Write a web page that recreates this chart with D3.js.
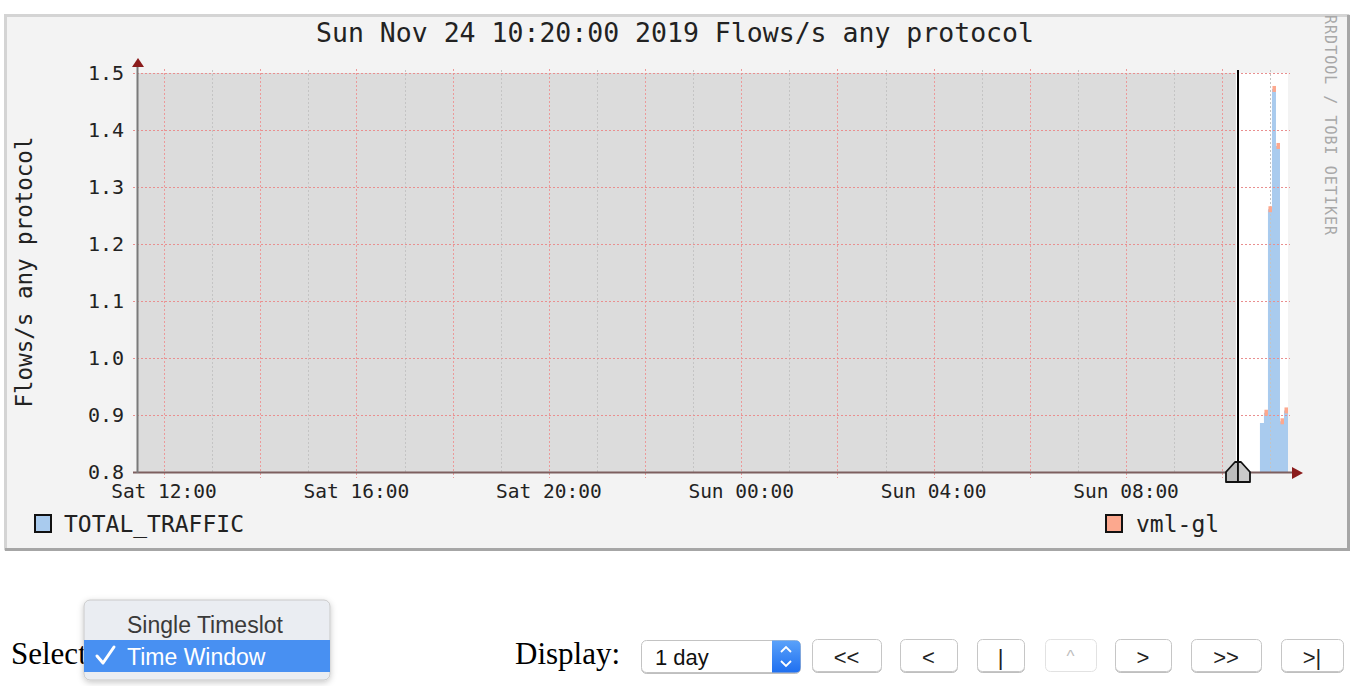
<!DOCTYPE html>
<html>
<head>
<meta charset="utf-8">
<script src="https://cdn.jsdelivr.net/npm/d3@7"></script>
<style>
  html, body { margin: 0; padding: 0; background: #fff; }
  svg { display: block; }
  .mono { font-family: "DejaVu Sans Mono", monospace; }
  .serif { font-family: "Liberation Serif", "Times New Roman", serif; }
  .sans { font-family: "Liberation Sans", Arial, sans-serif; }
</style>
</head>
<body>
<svg id="chart" width="1354" height="686"></svg>
<script>
// --- data ---
const title = 'Sun Nov 24 10:20:00 2019 Flows/s any protocol';
const yLabel = 'Flows/s any protocol';
const yTicks = [0.8, 0.9, 1.0, 1.1, 1.2, 1.3, 1.4, 1.5];
const xLabelTimes = ['2019-11-23T12:00', '2019-11-23T16:00', '2019-11-23T20:00',
                     '2019-11-24T00:00', '2019-11-24T04:00', '2019-11-24T08:00'];
const xLabelTexts = ['Sat 12:00', 'Sat 16:00', 'Sat 20:00', 'Sun 00:00', 'Sun 04:00', 'Sun 08:00'];
const stepTimes = ['2019-11-24T10:47', '2019-11-24T10:52', '2019-11-24T10:57', '2019-11-24T11:02',
                   '2019-11-24T11:07', '2019-11-24T11:12', '2019-11-24T11:17'];
const stepEnd = '2019-11-24T11:22';
const totalTraffic = [0.886, 0.904, 1.261, 1.472, 1.372, 0.889, 0.908];
const vmlGl = [null, 0.904, 1.261, 1.472, 1.372, 0.889, 0.908];
const selectedTime = '2019-11-24T10:20';
const shadeEnd = '2019-11-24T10:17';
const timeStart = '2019-11-23T11:26:20';
const timeEnd = '2019-11-24T11:22';
const legend = [{name: 'TOTAL_TRAFFIC', color: '#a9cbee'}, {name: 'vml-gl', color: '#fca88e'}];
const menuItems = ['Single Timeslot', 'Time Window'];
const navButtons = ['<<', '<', '|', '^', '>', '>>', '>|'];

const parse = s => new Date(s);
const svg = d3.select('#chart');

const x = d3.scaleTime().domain([parse(timeStart), parse(timeEnd)]).range([137, 1288]);
const y = d3.scaleLinear().domain([0.8, 1.5]).range([472, 73]);

// shadow filter for the menu and buttons
const defs = svg.append('defs');
const f = defs.append('filter').attr('id', 'shadow').attr('x', '-20%').attr('y', '-30%').attr('width', '140%').attr('height', '160%');
f.append('feDropShadow').attr('dx', 0).attr('dy', 2).attr('stdDeviation', 3).attr('flood-color', '#000').attr('flood-opacity', 0.22);
const fb = defs.append('filter').attr('id', 'btnshadow').attr('x', '-10%').attr('y', '-20%').attr('width', '120%').attr('height', '150%');
fb.append('feDropShadow').attr('dx', 0).attr('dy', 1).attr('stdDeviation', 0.6).attr('flood-color', '#000').attr('flood-opacity', 0.25);
const blueGrad = defs.append('linearGradient').attr('id', 'selblue').attr('x1', 0).attr('y1', 0).attr('x2', 0).attr('y2', 1);
blueGrad.append('stop').attr('offset', '0%').attr('stop-color', '#5aa2fa');
blueGrad.append('stop').attr('offset', '100%').attr('stop-color', '#1f6ff0');

// --- rrd frame ---
const frame = svg.append('g');
frame.append('rect').attr('x', 4).attr('y', 14).attr('width', 1346).attr('height', 537).attr('fill', '#f3f3f3');
frame.append('path').attr('d', 'M5.5,550 V15.5 H1349').attr('fill', 'none').attr('stroke', '#d4d4d4').attr('stroke-width', 3);
frame.append('path').attr('d', 'M5,549.5 H1348.5 V15').attr('fill', 'none').attr('stroke', '#a6a6a6').attr('stroke-width', 3);

// --- canvas ---
const plot = svg.append('g');
plot.append('rect').attr('x', x.range()[0]).attr('y', y(1.5)).attr('width', x.range()[1] - x.range()[0])
  .attr('height', y(0.8) - y(1.5)).attr('fill', '#ffffff');
plot.append('rect').attr('x', x.range()[0]).attr('y', y(1.5)).attr('width', x(parse(shadeEnd)) - x.range()[0])
  .attr('height', y(0.8) - y(1.5)).attr('fill', '#dcdcdc');

// data steps
const steps = stepTimes.map((t, i) => ({t: parse(t), v: totalTraffic[i]}));
steps.push({t: parse(stepEnd), v: totalTraffic[totalTraffic.length - 1]});
const area = d3.area().x(d => x(d.t)).y0(y(0.8)).y1(d => y(d.v)).curve(d3.curveStepAfter);
plot.append('path').datum(steps).attr('d', area).attr('fill', legend[0].color);

// grid: minor hours (gray), major every 2 hours (red)
const hours = x.ticks(d3.timeHour.every(1));
const grid = svg.append('g').attr('fill', 'none').attr('stroke-width', 1);
grid.selectAll('line.minor').data(hours.filter(h => h.getHours() % 2 === 1)).join('line')
  .attr('x1', d => Math.round(x(d)) + 0.5).attr('x2', d => Math.round(x(d)) + 0.5)
  .attr('y1', y(1.5) - 3).attr('y2', y(0.8))
  .attr('stroke', '#c4c4c4').attr('stroke-dasharray', '2,2');
grid.selectAll('line.major').data(hours.filter(h => h.getHours() % 2 === 0)).join('line')
  .attr('x1', d => Math.round(x(d)) + 0.5).attr('x2', d => Math.round(x(d)) + 0.5)
  .attr('y1', y(1.5) - 4).attr('y2', y(0.8) + 6)
  .attr('stroke', '#eb9a9a').attr('stroke-dasharray', '2,2');
grid.selectAll('line.h').data(yTicks.slice(1)).join('line')
  .attr('x1', x.range()[0] - 4).attr('x2', x.range()[1] + 2)
  .attr('y1', d => Math.round(y(d)) + 0.5).attr('y2', d => Math.round(y(d)) + 0.5)
  .attr('stroke', '#e98f8f').attr('stroke-dasharray', '2,2');

// vml-gl marks on top of each step
const marks = stepTimes.map((t, i) => ({t0: parse(t), t1: i + 1 < stepTimes.length ? parse(stepTimes[i + 1]) : parse(stepEnd), v: vmlGl[i]}))
  .filter(d => d.v !== null);
svg.append('g').selectAll('rect').data(marks).join('rect')
  .attr('x', d => x(d.t0) + 0.5).attr('width', d => x(d.t1) - x(d.t0) - 0.5)
  .attr('y', d => y(d.v) - 3).attr('height', 6)
  .attr('fill', legend[1].color);

// axes
const axes = svg.append('g');
axes.append('line').attr('x1', 133).attr('x2', 1294).attr('y1', y(0.8) + 0.5).attr('y2', y(0.8) + 0.5)
  .attr('stroke', '#7d5f5f').attr('stroke-width', 2);
axes.append('line').attr('x1', 137.5).attr('x2', 137.5).attr('y1', y(0.8) + 1).attr('y2', 64)
  .attr('stroke', '#7a7a7a').attr('stroke-width', 2);
axes.append('path').attr('d', 'M132,67 L138,58 L144,67 Z').attr('fill', '#8b1c1c');
axes.append('path').attr('d', 'M1292,467 L1303,473 L1292,479 Z').attr('fill', '#8b1c1c');

// y tick labels
axes.selectAll('text.yt').data(yTicks).join('text')
  .attr('class', 'mono').attr('x', 124).attr('y', d => y(d)).attr('dy', '0.36em')
  .attr('text-anchor', 'end').attr('font-size', 20).attr('fill', '#222')
  .text(d => d.toFixed(1));

// x tick labels
axes.selectAll('text.xt').data(xLabelTimes).join('text')
  .attr('class', 'mono').attr('x', d => x(parse(d))).attr('y', 498)
  .attr('text-anchor', 'middle').attr('font-size', 19.5).attr('fill', '#222')
  .text((d, i) => xLabelTexts[i]);

// titles
svg.append('text').attr('class', 'mono').attr('x', 675).attr('y', 42).attr('text-anchor', 'middle')
  .attr('font-size', 26.5).attr('fill', '#222').text(title);
svg.append('text').attr('class', 'mono').attr('transform', 'translate(32,272) rotate(-90)')
  .attr('text-anchor', 'middle').attr('font-size', 22.5).attr('fill', '#222').text(yLabel);
svg.append('text').attr('class', 'mono').attr('transform', 'translate(1325,15) rotate(90)')
  .attr('font-size', 15).attr('textLength', 220).attr('lengthAdjust', 'spacing')
  .attr('fill', '#a8a8a8').text('RRDTOOL / TOBI OETIKER');

// selected time line and handle
const xs = Math.round(x(parse(selectedTime)));
svg.append('line').attr('x1', xs).attr('x2', xs).attr('y1', 70).attr('y2', y(0.8))
  .attr('stroke', '#000').attr('stroke-width', 2);
const handle = svg.append('g').attr('stroke', '#111').attr('stroke-width', 1.8).attr('stroke-linejoin', 'round');
handle.append('path').attr('d', `M${xs - 12},482 V472 L${xs - 3},462 H${xs} V482 Z`).attr('fill', '#bdbdbd');
handle.append('path').attr('d', `M${xs + 12},482 V472 L${xs + 3},462 H${xs} V482 Z`).attr('fill', '#c9c9c9');

// legend
const lg = svg.append('g');
lg.append('rect').attr('x', 35).attr('y', 515).attr('width', 16).attr('height', 17)
  .attr('fill', legend[0].color).attr('stroke', '#111').attr('stroke-width', 2);
lg.append('text').attr('class', 'mono').attr('x', 64).attr('y', 532).attr('font-size', 23).attr('fill', '#222').text(legend[0].name);
lg.append('rect').attr('x', 1106).attr('y', 515).attr('width', 16).attr('height', 17)
  .attr('fill', legend[1].color).attr('stroke', '#111').attr('stroke-width', 2);
lg.append('text').attr('class', 'mono').attr('x', 1136).attr('y', 532).attr('font-size', 23).attr('fill', '#222').text(legend[1].name);

// --- controls below the graph ---
const ui = svg.append('g');
ui.append('text').attr('class', 'serif').attr('x', 11).attr('y', 664).attr('font-size', 31).attr('fill', '#000').text('Select');
ui.append('text').attr('class', 'serif').attr('x', 515).attr('y', 664).attr('font-size', 31).attr('fill', '#000').text('Display:');

// period select box
ui.append('rect').attr('x', 641.5).attr('y', 640.5).attr('width', 159).attr('height', 32).attr('rx', 5)
  .attr('fill', '#fff').attr('stroke', '#c3c3c3').attr('filter', 'url(#btnshadow)');
ui.append('path').attr('d', 'M772,640.5 H795.5 Q800.5,640.5 800.5,645.5 V667.5 Q800.5,672.5 795.5,672.5 H772 Z')
  .attr('fill', 'url(#selblue)');
ui.append('path').attr('d', 'M781,652 L786,647 L791,652 M781,661 L786,666 L791,661')
  .attr('fill', 'none').attr('stroke', '#fff').attr('stroke-width', 1.8);
ui.append('text').attr('class', 'sans').attr('x', 655).attr('y', 665).attr('font-size', 22).attr('fill', '#111').text('1 day');

// navigation buttons
const btnX = d3.scaleOrdinal().domain(navButtons).range([812, 900, 977, 1045, 1115, 1191, 1281]);
const btnW = d3.scaleOrdinal().domain(navButtons).range([69, 57, 47, 51, 56, 70, 62]);
const btn = ui.selectAll('g.btn').data(navButtons).join('g').attr('class', 'btn');
btn.append('rect').attr('x', d => btnX(d) + 0.5).attr('y', 639.5).attr('width', d => btnW(d)).attr('height', 32).attr('rx', 5)
  .attr('fill', '#fff').attr('stroke', d => d === '^' ? '#e2e2e2' : '#c6c6c6')
  .attr('filter', d => d === '^' ? null : 'url(#btnshadow)');
btn.append('text').attr('class', 'sans').attr('x', d => btnX(d) + btnW(d) / 2).attr('y', d => d === '^' ? 662 : 665)
  .attr('text-anchor', 'middle').attr('font-size', d => d === '^' ? 17 : 22)
  .attr('fill', d => d === '^' ? '#bdbdbd' : '#222').text(d => d);

// open dropdown menu
const menu = ui.append('g');
menu.append('rect').attr('x', 84).attr('y', 600).attr('width', 246).attr('height', 80).attr('rx', 6)
  .attr('fill', '#eaedf2').attr('stroke', '#c9c9c9').attr('filter', 'url(#shadow)');
menu.append('rect').attr('x', 84).attr('y', 640).attr('width', 246).attr('height', 32).attr('fill', '#4890f2');
menu.append('text').attr('class', 'sans').attr('x', 127).attr('y', 633).attr('font-size', 23).attr('fill', '#3a3a3a').text(menuItems[0]);
menu.append('path').attr('d', 'M97,656 L103,663 L114,647').attr('fill', 'none')
  .attr('stroke', '#fff').attr('stroke-width', 3).attr('stroke-linecap', 'round').attr('stroke-linejoin', 'round');
menu.append('text').attr('class', 'sans').attr('x', 127).attr('y', 665).attr('font-size', 23).attr('fill', '#fff').text(menuItems[1]);
</script>
</body>
</html>
